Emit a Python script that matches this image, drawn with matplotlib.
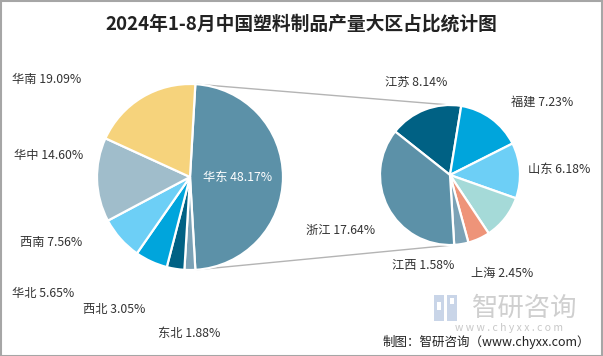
import matplotlib
matplotlib.use("Agg")
import matplotlib.pyplot as plt
from matplotlib.patches import Rectangle

plt.rcParams['font.family'] = ['Noto Sans CJK SC', 'DejaVu Sans']

# ---- data ----
title = "2024年1-8月中国塑料制品产量大区占比统计图"
main_labels = ["华东", "东北", "西北", "华北", "西南", "华中", "华南"]
main_values = [48.17, 1.88, 3.05, 5.65, 7.56, 14.60, 19.09]
main_colors = ["#5C91A8", "#7BA2B6", "#006184", "#00A5DC", "#6DCFF6", "#A0BDCB", "#F6D37C"]

sub_labels = ["江苏", "福建", "山东", "安徽", "上海", "江西", "浙江"]
sub_values = [8.14, 7.23, 6.18, 4.95, 2.45, 1.58, 17.64]
sub_colors = ["#006184", "#00A5DC", "#6DCFF6", "#A5DAD8", "#EE9479", "#7BA2B6", "#5C91A8"]
sub_show = [True, True, True, False, True, True, True]

footer = "制图：智研咨询（www.chyxx.com）"
brand = "智研咨询"
brand_url = "w w w . c h y x x . c o m"

W, H = 603, 356
fig = plt.figure(figsize=(W / 100, H / 100), dpi=100)
ax = fig.add_axes([0, 0, 1, 1])

def Y(y):
    return H - y

# left pie
c1 = (190, Y(177)); r1 = 93
start1 = main_values[0] / sum(main_values) * 360 / 2
ax.pie(main_values, colors=main_colors, startangle=start1, counterclock=False,
       center=c1, radius=r1, wedgeprops=dict(edgecolor="white", linewidth=1.6))

# right pie
c2 = (450, Y(175)); r2 = 70
ax.pie(sub_values, colors=sub_colors, startangle=141.6, counterclock=False,
       center=c2, radius=r2, wedgeprops=dict(edgecolor="white", linewidth=1.6))

# connection lines
import numpy as np
a = np.deg2rad(start1)
p_top = (c1[0] + r1 * np.cos(a), c1[1] + r1 * np.sin(a))
p_bot = (c1[0] + r1 * np.cos(-a), c1[1] + r1 * np.sin(-a))
ax.plot([p_top[0], c2[0]], [p_top[1], c2[1] + r2], color="#b4b4b4", lw=1.0, zorder=0)
ax.plot([p_bot[0], c2[0] + 3], [p_bot[1], c2[1] - r2], color="#b4b4b4", lw=1.0, zorder=0)

fs = 8.8
# left labels (layout positions)
main_pos = [(203, 178), (158, 333), (83, 310), (12, 294), (20, 242), (14, 155), (12, 79)]
for lab, v, (x, y), i in zip(main_labels, main_values, main_pos, range(len(main_labels))):
    col = "white" if i == 0 else "#333333"
    ax.text(x, Y(y), f"{lab} {v:.2f}%", fontsize=fs, color=col, ha="left", va="center")

sub_pos = [(385, 82), (511, 102), (528, 169), None, (471, 273), (392, 265), (306, 230)]
for lab, v, pos, show in zip(sub_labels, sub_values, sub_pos, sub_show):
    if show:
        ax.text(pos[0], Y(pos[1]), f"{lab} {v:.2f}%", fontsize=fs, color="#333333",
                ha="left", va="center")

# title
ax.text(W / 2, Y(24), title, fontsize=13.5, fontweight="bold", color="#222222",
        ha="center", va="center")

# watermark
ax.add_patch(Rectangle((434, Y(321)), 10, 26, color="#C9D5E8", zorder=5, lw=0))
ax.add_patch(Rectangle((447, Y(321)), 10, 26, color="#C9D5E8", zorder=5, lw=0))
ax.add_patch(Rectangle((437, Y(310)), 4, 8, color="white", zorder=6, lw=0))
ax.add_patch(Rectangle((450, Y(304)), 4, 6, color="white", zorder=6, lw=0))
ax.text(525, Y(308), brand, fontsize=19, color="#CFCFCF", ha="center", va="center")
ax.text(509, Y(328), brand_url, fontsize=7.5, color="#C8C8C8", ha="center", va="center")
ax.text(590, Y(342), footer, fontsize=9, color="#222222", ha="right", va="center")

ax.set_xlim(0, W)
ax.set_ylim(0, H)
ax.set_aspect("auto")
ax.axis("off")

# border
fig.patches.append(Rectangle((0.5 / W, 0.5 / H), 1 - 1.5 / W, 1 - 1.5 / H, transform=fig.transFigure,
                             fill=False, edgecolor="#a6a6a6", lw=1.5))

fig.savefig("out.png", dpi=100, facecolor="white")
